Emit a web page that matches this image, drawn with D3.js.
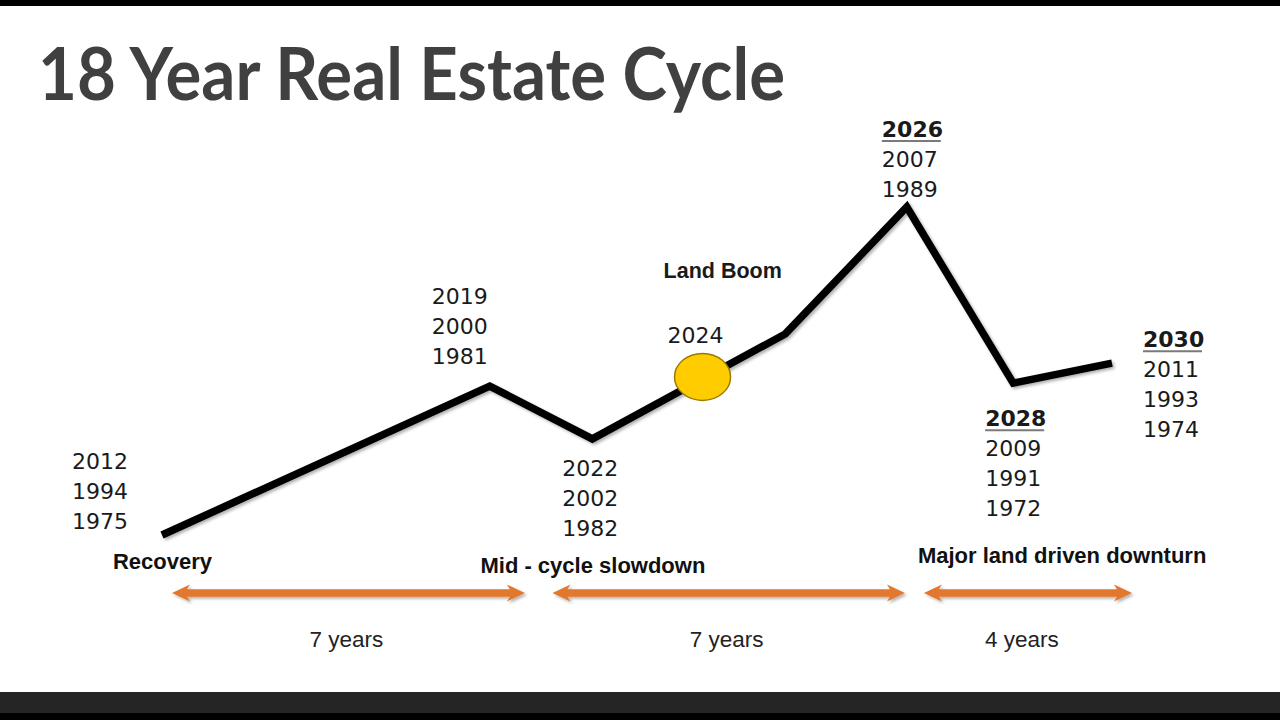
<!DOCTYPE html>
<html>
<head>
<meta charset="utf-8">
<script src="https://cdn.jsdelivr.net/npm/d3@7"></script>
<style>
  html, body { margin: 0; padding: 0; background: #fff; }
  svg { display: block; }
</style>
</head>
<body>
<div id="chart"></div>
<script>
// Cycle turning points: position along the cycle (0-100) and market level (0-100)
const stageX = [0, 34.5, 45.3, 65.6, 78.4, 89.6, 100];
const level = [0, 45.4, 29.3, 61.3, 100, 46.3, 52.4];

// Years that fell on each turning point (empty = no label)
const yearGroups = [
  ["2012", "1994", "1975"],
  ["2019", "2000", "1981"],
  ["2022", "2002", "1982"],
  [],
  ["2026", "2007", "1989"],
  ["2028", "2009", "1991", "1972"],
  ["2030", "2011", "1993", "1974"]
];
const headlineIdx = [4, 5, 6]; // first year shown bold + underlined

// Where we are now
const markerStage = 56.9;
const markerLevel = 48.2;
const markerYear = "2024";
const markerTitle = "Land Boom";

// Phases of the cycle
const phases = ["Recovery", "Mid - cycle slowdown", "Major land driven downturn"];
const phaseSpans = [[1.05, 38.2], [41.1, 78.2], [80.2, 102.1]];
const phaseLengths = ["7 years", "7 years", "4 years"];

const W = 1280, H = 720;

const svg = d3.select("#chart").append("svg")
  .attr("width", W)
  .attr("height", H);

const defs = svg.append("defs");
defs.append("filter").attr("id", "shadow")
  .attr("x", "-10%").attr("y", "-10%").attr("width", "120%").attr("height", "130%")
  .append("feDropShadow")
  .attr("dx", 2).attr("dy", 2).attr("stdDeviation", 1.5)
  .attr("flood-color", "#000").attr("flood-opacity", 0.3);

// Frame bars
svg.append("rect").attr("x", 0).attr("y", 0).attr("width", W).attr("height", 6).attr("fill", "#000");
svg.append("rect").attr("x", 0).attr("y", 692).attr("width", W).attr("height", 21).attr("fill", "#252525");
svg.append("rect").attr("x", 0).attr("y", 713).attr("width", W).attr("height", 7).attr("fill", "#000");

// Title
svg.append("text")
  .attr("x", 38)
  .attr("y", 100)
  .attr("textLength", 747)
  .attr("lengthAdjust", "spacingAndGlyphs")
  .style("font-family", "Lato, 'Open Sans', sans-serif")
  .style("font-weight", "bold")
  .style("font-size", "72px")
  .style("fill", "#404040")
  .text("18 Year Real Estate Cycle");

// Scales
const x = d3.scaleLinear().domain([0, 100]).range([162, 1112]);
const y = d3.scaleLinear().domain([0, 100]).range([535, 207]);

const points = stageX.map((s, i) => ({ s, v: level[i], years: yearGroups[i], i }));

// Cycle line
svg.append("path")
  .datum(points)
  .attr("d", d3.line().x(d => x(d.s)).y(d => y(d.v)))
  .attr("fill", "none")
  .attr("stroke", "#000")
  .attr("stroke-width", 7.5)
  .attr("stroke-linejoin", "miter")
  .attr("filter", "url(#shadow)");

// Current position marker
svg.append("ellipse")
  .attr("cx", x(markerStage))
  .attr("cy", y(markerLevel))
  .attr("rx", 28)
  .attr("ry", 23.5)
  .attr("fill", "#FFCC00")
  .attr("stroke", "#9C7A00")
  .attr("stroke-width", 1.5);

const yearFont = "'DejaVu Sans', sans-serif";
const labelFont = "'Liberation Sans', Arial, sans-serif";

svg.append("text")
  .attr("x", x(markerStage) - 35)
  .attr("y", y(markerLevel) - 34)
  .style("font-family", yearFont)
  .style("font-size", "22px")
  .style("fill", "#1a1a1a")
  .text(markerYear);

svg.append("text")
  .attr("x", x(markerStage) - 39)
  .attr("y", y(markerLevel) - 99)
  .style("font-family", labelFont)
  .style("font-weight", "bold")
  .style("font-size", "21.5px")
  .style("fill", "#1a1a1a")
  .text(markerTitle);

// Year labels beside each turning point
const labelOffset = [[-90, -66], [-58, -82], [-30, 37], [0, 0], [-25, -70], [-28, 43], [31, -16]];
const lineGap = 30;

points.filter(d => d.years.length).forEach(d => {
  const [dx, dy] = labelOffset[d.i];
  const g = svg.append("g")
    .attr("transform", `translate(${x(d.s) + dx},${y(d.v) + dy})`);
  const head = headlineIdx.includes(d.i);
  g.selectAll("text")
    .data(d.years)
    .enter()
    .append("text")
    .attr("x", 0)
    .attr("y", (t, j) => j * lineGap)
    .style("font-family", yearFont)
    .style("font-size", "22px")
    .style("font-weight", (t, j) => head && j === 0 ? "bold" : "normal")
    .style("fill", "#1a1a1a")
    .text(t => t);
  if (head) {
    g.append("line")
      .attr("x1", 0).attr("x2", 59)
      .attr("y1", 4).attr("y2", 4)
      .attr("stroke", "#7a7a7a")
      .attr("stroke-width", 2);
  }
});

// Phase arrows
const arrowY = 593;
const headLen = 18, headHalf = 8.5, shaftHalf = 3.8;
function arrowPath(x1, x2) {
  return [
    [x1, arrowY],
    [x1 + headLen, arrowY - headHalf],
    [x1 + headLen - 3, arrowY - shaftHalf],
    [x2 - headLen + 3, arrowY - shaftHalf],
    [x2 - headLen, arrowY - headHalf],
    [x2, arrowY],
    [x2 - headLen, arrowY + headHalf],
    [x2 - headLen + 3, arrowY + shaftHalf],
    [x1 + headLen - 3, arrowY + shaftHalf],
    [x1 + headLen, arrowY + headHalf]
  ].map(p => p.join(",")).join(" ");
}

svg.selectAll(".arrow")
  .data(phaseSpans)
  .enter()
  .append("polygon")
  .attr("class", "arrow")
  .attr("points", d => arrowPath(x(d[0]), x(d[1])))
  .attr("fill", "#E2782F")
  .attr("filter", "url(#shadow)");

// Phase names and durations
const phaseLabelDx = [-59, -72, -6];
const phaseLabelY = [569, 573, 563];

svg.selectAll(".phase")
  .data(phases)
  .enter()
  .append("text")
  .attr("class", "phase")
  .attr("x", (d, i) => x(phaseSpans[i][0]) + phaseLabelDx[i])
  .attr("y", (d, i) => phaseLabelY[i])
  .style("font-family", labelFont)
  .style("font-weight", "bold")
  .style("font-size", "22px")
  .style("fill", "#111")
  .text(d => d);

svg.selectAll(".dur")
  .data(phaseLengths)
  .enter()
  .append("text")
  .attr("class", "dur")
  .attr("x", (d, i) => (x(phaseSpans[i][0]) + x(phaseSpans[i][1])) / 2 - (i === 2 ? 6 : 2))
  .attr("y", 647)
  .attr("text-anchor", "middle")
  .style("font-family", labelFont)
  .style("font-size", "22.5px")
  .style("fill", "#222")
  .text(d => d);
</script>
</body>
</html>
